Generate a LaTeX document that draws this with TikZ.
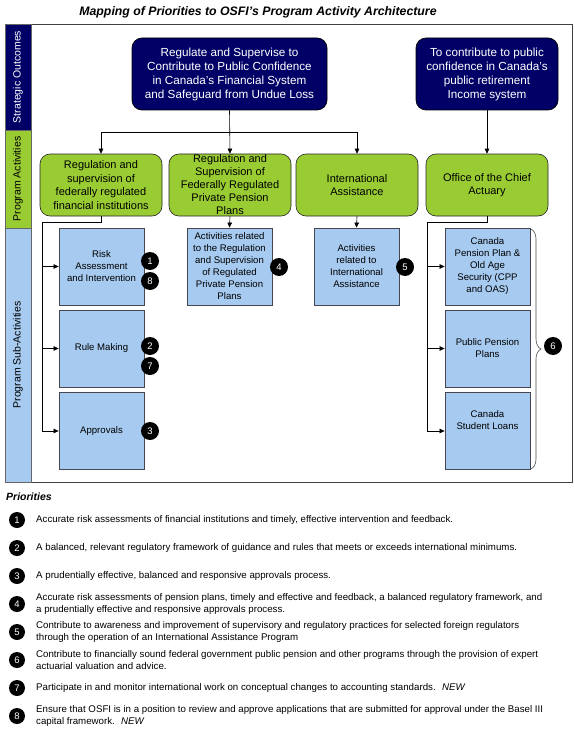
\documentclass[tikz,border=0pt]{standalone}
\usepackage{fontspec}
\setmainfont{Liberation Sans}
\usetikzlibrary{arrows.meta,decorations.pathreplacing,calc}
\definecolor{navy}{RGB}{0,0,102}
\definecolor{lgreen}{RGB}{153,204,51}
\definecolor{lblue}{RGB}{166,202,240}
\definecolor{bord}{RGB}{70,70,80}
\begin{document}
\begin{tikzpicture}[x=1pt,y=-1pt,
 outcome/.style={draw=black, fill=navy, rounded corners=10pt, text=white, minimum width=195pt, minimum height=72pt, align=center, font=\fontsize{11.7}{14}\selectfont, inner sep=1pt, line width=0.7pt},
 activity/.style={draw=black!85, fill=lgreen, rounded corners=10pt, minimum width=122pt, minimum height=62pt, align=center, font=\fontsize{11}{13.5}\selectfont, inner sep=1pt, line width=0.6pt},
 subact/.style={draw=bord, fill=lblue, minimum width=85pt, minimum height=77pt, align=center, font=\fontsize{9.6}{12}\selectfont, inner sep=1pt, line width=0.8pt},
 badge/.style={circle, fill=black, text=white, minimum size=18pt, inner sep=0pt, font=\fontsize{9.5}{9.5}\selectfont},
 pbadge/.style={badge, minimum size=16pt},
 arr/.style={-{Triangle[length=5pt,width=4.5pt]}, line width=0.6pt},
 side/.style={draw=black!60, rotate=90, minimum height=26pt, inner sep=0pt, font=\fontsize{10.5}{12}\selectfont},
 prio/.style={anchor=west, align=left, font=\fontsize{9.7}{12}\selectfont, inner sep=0pt},
]
\useasboundingbox (0,0) rectangle (575,733);
\fill[white] (0,0) rectangle (575,733);

% title
\node[font=\fontsize{12.3}{14}\selectfont\bfseries\itshape] (title) at (258,12) {Mapping of Priorities to OSFI's Program Activity Architecture};

% frame
\draw[black!75, line width=0.7pt] (5,24) rectangle (572,482);

% sidebar
\node[side, fill=navy, text=white, minimum width=106pt] (s1) at (18,77) {Strategic Outcomes};
\node[side, fill=lgreen, minimum width=98pt] (s2) at (18,179) {Program Activities};
\node[side, fill=lblue, minimum width=254pt] (s3) at (18,355) {Program Sub-Activities};

% strategic outcomes
\node[outcome] (t1) at (229.5,74) {Regulate and Supervise to\\Contribute to Public Confidence\\in Canada's Financial System\\and Safeguard from Undue Loss};
\node[outcome, minimum width=142pt] (t2) at (487,74) {To contribute to public\\confidence in Canada's\\public retirement\\Income system};

% program activities
\node[activity] (gA) at (101,185) {Regulation and\\supervision of\\federally regulated\\financial institutions};
\node[activity, font=\fontsize{11}{13}\selectfont] (gB) at (230,185) {Regulation and\\Supervision of\\Federally Regulated\\Private Pension\\Plans};
\node[activity] (gC) at (357,185) {International\\Assistance};
\node[activity] (gD) at (487,185) {Office of the Chief\\Actuary};

% connectors top
\coordinate (j1) at (230,132);
\draw[arr] (t1.south) -- (gB.north);
\draw[arr] (j1) -| (gA.north);
\draw[arr] (j1) -| (gC.north);
\draw[arr] (t2.south) -- (gD.north);

% sub-activities
\node[subact] (r1) at (101.5,266.5) {Risk\\Assessment\\and Intervention};
\node[subact] (r2) at (101.5,348.5) {Rule Making};
\node[subact] (r3) at (101.5,431) {Approvals};
\node[subact] (m1) at (229.5,266.5) {Activities related\\to the Regulation\\and Supervision\\of Regulated\\Private Pension\\Plans};
\node[subact] (c1) at (356.5,266.5) {Activities\\related to\\International\\Assistance};
\node[subact] (p1) at (487.5,266.5) {Canada\\Pension Plan \&\\Old Age\\Security (CPP\\and OAS)};
\node[subact] (p2) at (487.5,348.5) {Public Pension\\Plans};
\node[subact] (p3) at (487.5,431) {};
\node[font=\fontsize{9.6}{12}\selectfont, align=center] (p3t) at (487.5,420) {Canada\\Student Loans};

% connectors sub
\coordinate (lb) at (42,222);
\draw[arr] (gA.south) |- (lb) |- (r3.west);
\draw[arr] (lb |- r1.west) -- (r1.west);
\draw[arr] (lb |- r2.west) -- (r2.west);
\draw[arr] (gB.south) -- (m1.north);
\draw[arr] (gC.south) -- (c1.north);
\coordinate (rb) at (427,222);
\draw[arr] (gD.south) |- (rb) |- (p3.west);
\draw[arr] (rb |- p1.west) -- (p1.west);
\draw[arr] (rb |- p2.west) -- (p2.west);

% brace
\draw[black!70, line width=0.6pt, decorate, decoration={brace, amplitude=10pt}] (531,229) -- (531,469);

% badges
\node[badge] (b1) at (150,261) {1};
\node[badge] (b8) at (150,281) {8};
\node[badge] (b2) at (150,346) {2};
\node[badge] (b7) at (150,366) {7};
\node[badge] (b3) at (150,431) {3};
\node[badge] (b4) at (279,267) {4};
\node[badge] (b5) at (405,267) {5};
\node[badge] (b6) at (553,346) {6};

% priorities
\node[anchor=west, inner sep=0pt, font=\fontsize{10.5}{12}\selectfont\bfseries\itshape] (ptitle) at (6,497) {Priorities};
\node[pbadge] (q1) at (17,520) {1};
\node[pbadge] (q2) at (17,548) {2};
\node[pbadge] (q3) at (17,576) {3};
\node[pbadge] (q4) at (17,604) {4};
\node[pbadge] (q5) at (17,632) {5};
\node[pbadge] (q6) at (17,660) {6};
\node[pbadge] (q7) at (17,688) {7};
\node[pbadge] (q8) at (17,716) {8};
\node[prio] (x1) at (36,520) {Accurate risk assessments of financial institutions and timely, effective intervention and feedback.};
\node[prio] (x2) at (36,548) {A balanced, relevant regulatory framework of guidance and rules that meets or exceeds international minimums.};
\node[prio] (x3) at (36,576) {A prudentially effective, balanced and responsive approvals process.};
\node[prio] (x4) at (36,604) {Accurate risk assessments of pension plans, timely and effective and feedback, a balanced regulatory framework, and\\a prudentially effective and responsive approvals process.};
\node[prio] (x5) at (36,632) {Contribute to awareness and improvement of supervisory and regulatory practices for selected foreign regulators\\through the operation of an International Assistance Program};
\node[prio] (x6) at (36,660) {Contribute to financially sound federal government public pension and other programs through the provision of expert\\actuarial valuation and advice.};
\node[prio] (x7) at (36,688) {Participate in and monitor international work on conceptual changes to accounting standards. \ \textit{NEW}};
\node[prio] (x8) at (36,716) {Ensure that OSFI is in a position to review and approve applications that are submitted for approval under the Basel III\\capital framework. \ \textit{NEW}};
\end{tikzpicture}
\end{document}
